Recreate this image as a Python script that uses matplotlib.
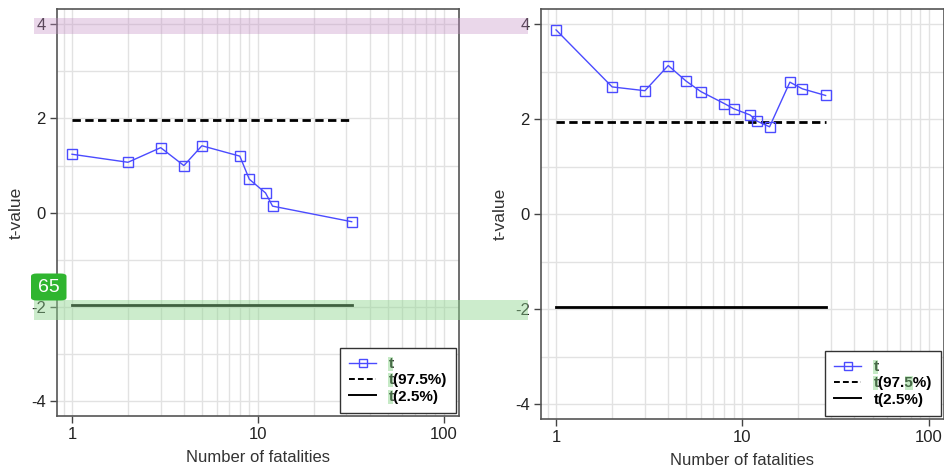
import matplotlib
matplotlib.use("Agg")
import matplotlib.pyplot as plt
from matplotlib.patches import Rectangle, FancyBboxPatch
from matplotlib.ticker import LogLocator, NullFormatter, FixedLocator

plt.rcParams['font.family'] = ['Liberation Sans', 'DejaVu Sans']

# ---- data ----
left_x = [1, 2, 3, 4, 5, 8, 9, 11, 12, 32]
left_t = [1.24, 1.07, 1.38, 1.00, 1.42, 1.20, 0.71, 0.42, 0.14, -0.19]
left_upper = 1.96
left_lower = -1.96

right_x = [1, 2, 3, 4, 5, 6, 8, 9, 11, 12, 14, 18, 21, 28]
right_t = [3.88, 2.68, 2.60, 3.13, 2.80, 2.58, 2.33, 2.22, 2.09, 1.96, 1.84, 2.78, 2.64, 2.50]
right_upper = 1.95
right_lower = -1.96

y_ticks = [-4, -2, 0, 2, 4]
x_ticks = [1, 10, 100]
x_ticklabels = ['1', '10', '100']
legend_labels = ['t', 't(97.5%)', 't(2.5%)']
xlabel = 'Number of fatalities'
ylabel = 't-value'

W, H = 945, 468
fig = plt.figure(figsize=(W / 100, H / 100), dpi=100)


def px_axes(x0, y0, x1, y1):
    return fig.add_axes([x0 / W, 1 - y1 / H, (x1 - x0) / W, (y1 - y0) / H])


blue = '#4b4bff'


def draw(ax, xs, ts, up, lo):
    ax.set_xscale('log')
    ax.set_xlim(0.83, 121)
    ax.set_ylim(-4.31, 4.32)
    ax.set_xticks(x_ticks)
    ax.set_xticklabels(x_ticklabels)
    ax.xaxis.set_minor_locator(LogLocator(base=10, subs=range(2, 10)))
    ax.xaxis.set_minor_formatter(NullFormatter())
    ax.set_yticks(y_ticks)
    ax.set_yticklabels([str(v) for v in y_ticks])
    ax.yaxis.set_minor_locator(FixedLocator([-3, -1, 1, 3]))
    ax.grid(True, which='both', color='#e2e2e2', lw=1.0, zorder=0)
    ax.set_axisbelow(True)
    ax.tick_params(which='minor', length=0)
    ax.tick_params(which='major', length=5, width=1, color='#444444',
                   labelsize=12, pad=3, labelcolor='#222222')
    for s in ax.spines.values():
        s.set_color('#555555')
        s.set_linewidth(1.2)
    l1, = ax.plot(xs, ts, color=blue, lw=1.0, marker='s', markersize=7.5,
                  markerfacecolor='none', markeredgecolor=blue, markeredgewidth=1.0,
                  zorder=4)
    l2, = ax.plot([xs[0], xs[-1]], [up, up], color='black', lw=2.0,
                  linestyle=(0, (3, 1.6)), zorder=3)
    l3, = ax.plot([xs[0], xs[-1]], [lo, lo], color='black', lw=2.0, zorder=3)
    ax.set_xlabel(xlabel, fontsize=12, color='#333333', labelpad=6)
    ax.set_ylabel(ylabel, fontsize=12.5, color='#333333', labelpad=5)
    leg = ax.legend([l1, l2, l3], legend_labels, loc='lower right',
                    prop={'weight': 'bold', 'size': 11},
                    frameon=True, fancybox=False, edgecolor='#333333',
                    handlelength=1.75, borderaxespad=0.2, labelspacing=0.15,
                    borderpad=0.6, handletextpad=0.8)
    leg.get_frame().set_linewidth(1.0)
    leg.get_frame().set_alpha(1.0)
    for i, h in enumerate(leg.legend_handles):
        h.set_linewidth(1.0 if i == 0 else 1.4)
    leg.legend_handles[0].set_markersize(6)
    return ax, leg


axL, legL = draw(px_axes(57, 9, 459, 416), left_x, left_t, left_upper, left_lower)
axR, legR = draw(px_axes(541, 9, 944, 419), right_x, right_t, right_upper, right_lower)

# ---- overlay highlight bands and badge ----
fig.patches.append(Rectangle((34 / W, 1 - 34.3 / H), (528 - 34) / W, 16 / H,
                             transform=fig.transFigure, facecolor='#c58ec5',
                             alpha=0.35, edgecolor='none', zorder=10))
fig.patches.append(Rectangle((34 / W, 1 - 319.5 / H), (528 - 34) / W, 19.5 / H,
                             transform=fig.transFigure, facecolor='#8fd68f',
                             alpha=0.45, edgecolor='none', zorder=10))
badge = FancyBboxPatch((31 / W, 1 - 300.5 / H), 35.5 / W, 27 / H,
                       boxstyle='round,pad=0,rounding_size=0.006',
                       transform=fig.transFigure, facecolor='#2fb52f',
                       edgecolor='none', zorder=11)
fig.patches.append(badge)
fig.text(48.7 / W, 1 - 287 / H, '65', color='white', fontsize=14,
         ha='center', va='center', zorder=12)

# ---- character highlights in legend text ----
fig.canvas.draw()
renderer = fig.canvas.get_renderer()


def highlight(leg, row, start, end):
    txt = leg.get_texts()[row]
    bb = txt.get_window_extent(renderer)
    s = txt.get_text()
    fp = txt.get_fontproperties()
    w0 = renderer.get_text_width_height_descent(s[:start], fp, ismath=False)[0] if start else 0
    w1 = renderer.get_text_width_height_descent(s[:end], fp, ismath=False)[0]
    fig.patches.append(Rectangle(((bb.x0 + w0) / W, bb.y0 / H), (w1 - w0) / W,
                                 bb.height / H, transform=fig.transFigure,
                                 facecolor='#8fd68f', alpha=0.5, edgecolor='none',
                                 zorder=10))


for r in range(3):
    highlight(legL, r, 0, 1)
highlight(legR, 0, 0, 1)
highlight(legR, 1, 0, 1)
highlight(legR, 1, 5, 6)

fig.savefig('out.png', dpi=100)
